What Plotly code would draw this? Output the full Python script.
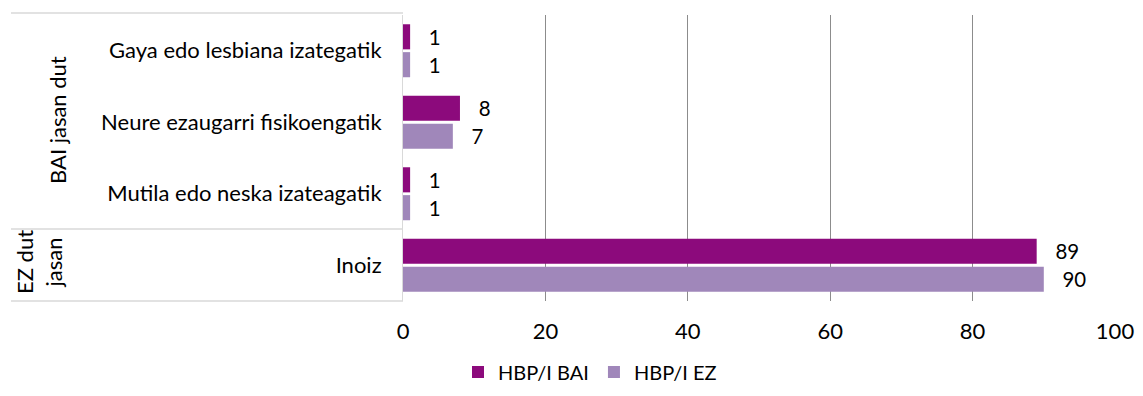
import plotly.graph_objects as go

categories = ["Gaya edo lesbiana izategatik", "Neure ezaugarri fisikoengatik",
              "Mutila edo neska izateagatik", "Inoiz"]
groups = ["BAI jasan dut", "EZ dut<br>jasan"]
series_names = ["HBP/I BAI", "HBP/I EZ"]
bai_values = [1, 8, 1, 89]
ez_values = [1, 7, 1, 90]
x_ticks = [0, 20, 40, 60, 80, 100]

FONT = "Lato"
FS = 22
colors = ["#8C0A7C", "#A087BA"]

# page body has an 8px margin on every side: keep the figure inside the window
OFF = 8
W, H = 1143 - 2 * OFF, 396 - 2 * OFF
PL, PR, PT, PB = 403, 1115, 15, 301  # plot area in window pixels
L, R, T, B = PL - OFF, (OFF + W) - PR, PT - OFF, (OFF + H) - PB

fig = go.Figure()
for name, vals, col in zip(series_names, [bai_values, ez_values], colors):
    fig.add_trace(go.Bar(
        y=categories, x=vals, name=name, orientation="h",
        marker=dict(color=col, line=dict(width=0)),
        text=["\u00a0\u00a0\u00a0" + str(v) for v in vals], textposition="outside",
        textfont=dict(family=FONT, size=FS, color="#000000"),
        cliponaxis=False,
    ))

fig.update_layout(
    width=W, height=H,
    margin=dict(l=L, r=R, t=T, b=B, autoexpand=False),
    barmode="group", bargap=0.22, bargroupgap=0.1,
    plot_bgcolor="white", paper_bgcolor="white",
    font=dict(family=FONT, size=FS, color="#000000"),
    legend=dict(orientation="h", x=(590 - OFF) / W, xref="container", xanchor="center",
                y=(OFF + H - 372) / H, yref="container", yanchor="middle",
                font=dict(family=FONT, size=20), traceorder="normal"),
    xaxis=dict(range=[0, 100], tickvals=x_ticks, showgrid=True, gridcolor="#8C8C8C",
               gridwidth=1, zeroline=False, showline=False, ticks="outside",
               ticklen=11, tickcolor="rgba(0,0,0,0)", tickfont=dict(size=FS),
               ticklabeloverflow="allow", automargin=False),
    yaxis=dict(autorange="reversed", showgrid=False, showline=True, linecolor="#D9D9D9",
               ticks="outside", ticklen=16, tickcolor="rgba(0,0,0,0)", tickfont=dict(size=FS),
               automargin=False),
)

def ypaper(py):
    return (PB - py) / (PB - PT)
def xpaper(px):
    return (px - PL) / (PR - PL)

for py in [13, 229, 301]:
    fig.add_shape(type="line", xref="paper", yref="paper",
                  x0=xpaper(11), x1=xpaper(403), y0=ypaper(py), y1=ypaper(py),
                  line=dict(color="#D9D9D9", width=1.5))

fig.add_annotation(text=groups[0], xref="paper", yref="paper", x=xpaper(58), y=ypaper(120),
                   xanchor="center", yanchor="middle",
                   textangle=-90, showarrow=False, font=dict(family=FONT, size=FS))
fig.add_annotation(text=groups[1], xref="paper", yref="paper", x=xpaper(39), y=ypaper(262),
                   xanchor="center", yanchor="middle",
                   textangle=-90, showarrow=False, font=dict(family=FONT, size=FS))

fig.write_html("out.html")
